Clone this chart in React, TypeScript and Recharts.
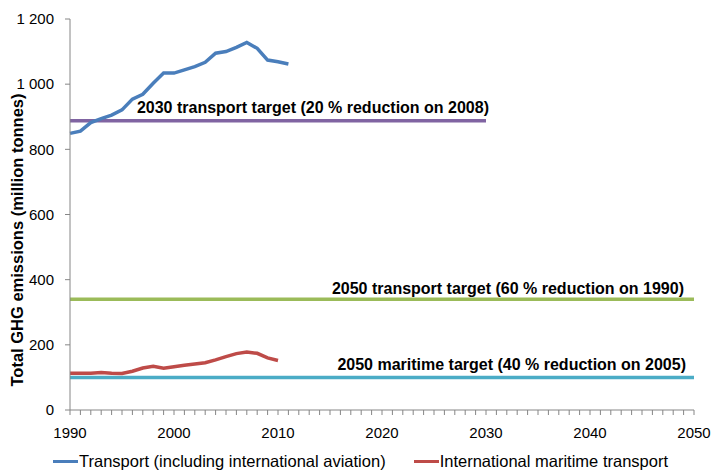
import { LineChart, Line, XAxis, YAxis, ReferenceLine, Legend } from 'recharts'

const YEARS = [
  1990, 1991, 1992, 1993, 1994, 1995, 1996, 1997, 1998, 1999, 2000,
  2001, 2002, 2003, 2004, 2005, 2006, 2007, 2008, 2009, 2010, 2011,
]
const TRANSPORT = [
  849, 856, 882, 894, 905, 921, 954, 969, 1003, 1034, 1034,
  1044, 1054, 1067, 1095, 1100, 1113, 1128, 1110, 1074, 1069, 1062,
]
const MARITIME = [
  113, 113, 113, 115, 113, 112, 119, 129, 134, 128, 133,
  137, 141, 145, 154, 164, 173, 178, 174, 160, 152,
]
const SERIES_NAMES = ['Transport (including international aviation)', 'International maritime transport']

const TARGET_NAMES = [
  '2030 transport target (20 % reduction on 2008)',
  '2050 transport target (60 % reduction on 1990)',
  '2050 maritime target (40 % reduction on 2005)',
]
const TARGET_VALUES = [888, 340, 100]
const TARGET_START = [1990, 1990, 1990]
const TARGET_END = [2030, 2050, 2050]

const X_LABELS = [1990, 2000, 2010, 2020, 2030, 2040, 2050]
const Y_TICKS = [0, 200, 400, 600, 800, 1000, 1200]

// styling for the target lines + labels (end offset, lift above line)
const TARGET_STYLE = [
  { color: '#8064a2', dx: -3, dy: 8 },
  { color: '#9bbb59', dx: 10, dy: 5 },
  { color: '#4bacc6', dx: 8, dy: 7 },
]

const FONT = '"Liberation Sans", Arial, sans-serif'
const AXIS = '#868686'

const rows = YEARS.map((year, i) => ({
  year,
  transport: TRANSPORT[i],
  maritime: MARITIME[i] ?? null,
}))

const minorTicks = Array.from({ length: 61 }, (_, i) => 1990 + i)

const fmt = (v: number) => String(v).replace(/\B(?=(\d{3})+(?!\d))/g, ' ')

function XTick({ x, y, payload }: any) {
  if (!X_LABELS.includes(payload.value)) return <g />
  return (
    <text x={x} y={y} dy="0.71em" textAnchor="middle" fill="#000" fontSize={15} fontFamily={FONT}>
      {payload.value}
    </text>
  )
}

function LegendBox({ payload }: any) {
  const items = [...(payload || [])].sort(
    (a: any, b: any) => SERIES_NAMES.indexOf(a.value) - SERIES_NAMES.indexOf(b.value),
  )
  return (
    <div style={{ display: 'flex', width: 713, height: 22, alignItems: 'center', paddingLeft: 53, whiteSpace: 'nowrap', fontFamily: FONT, fontSize: 16.5, color: '#000' }}>
      {items.map((p: any, i: number) => (
        <div key={i} style={{ display: 'flex', flexShrink: 0, alignItems: 'center', marginRight: 28 }}>
          <span style={{ display: 'inline-block', width: 25, height: 3, background: p.color, marginRight: 1 }} />
          <span style={{ whiteSpace: 'nowrap' }}>{p.value}</span>
        </div>
      ))}
    </div>
  )
}

export default function App() {
  return (
    <div style={{ position: 'absolute', left: 0, top: 0, background: '#fff' }}>
      <LineChart width={713} height={472} data={rows} margin={{ top: 19, right: 19, left: 0, bottom: 0 }}>
        <XAxis
          dataKey="year"
          type="number"
          domain={[1990, 2050]}
          ticks={minorTicks}
          interval={0}
          stroke={AXIS}
          tickSize={5}
          tickMargin={12}
          height={40}
          tick={<XTick />}
        />
        <YAxis
          type="number"
          domain={[0, 1200]}
          ticks={Y_TICKS}
          interval={0}
          width={70}
          stroke={AXIS}
          tickSize={5}
          tickMargin={11}
          tickFormatter={fmt}
          tick={{ fill: '#000', fontSize: 15, fontFamily: FONT }}
          label={{
            content: ({ viewBox }: any) => (
              <text
                x={viewBox.x + 17}
                y={240}
                transform={`rotate(-90 ${viewBox.x + 17} 240)`}
                textAnchor="middle"
                dominantBaseline="central"
                fontSize={16.5}
                fontWeight="bold"
                fontFamily={FONT}
                fill="#000"
              >
                Total GHG emissions (million tonnes)
              </text>
            ),
          }}
        />
        {TARGET_NAMES.map((name, i) => (
          <ReferenceLine
            key={name}
            segment={[
              { x: TARGET_START[i], y: TARGET_VALUES[i] },
              { x: TARGET_END[i], y: TARGET_VALUES[i] },
            ]}
            stroke={TARGET_STYLE[i].color}
            strokeWidth={3.5}
            ifOverflow="visible"
            label={{
              content: ({ viewBox }: any) => (
                <text
                  x={viewBox.x + viewBox.width - TARGET_STYLE[i].dx}
                  y={viewBox.y - TARGET_STYLE[i].dy}
                  textAnchor="end"
                  fontSize={16}
                  fontWeight="bold"
                  fontFamily={FONT}
                  fill="#000"
                >
                  {name}
                </text>
              ),
            }}
          />
        ))}
        <Line
          dataKey="transport"
          name={SERIES_NAMES[0]}
          stroke="#4a7ebb"
          strokeWidth={3.5}
          dot={false}
          isAnimationActive={false}
        />
        <Line
          dataKey="maritime"
          name={SERIES_NAMES[1]}
          stroke="#be4b48"
          strokeWidth={3.5}
          dot={false}
          isAnimationActive={false}
        />
        <Legend verticalAlign="bottom" content={<LegendBox />} wrapperStyle={{ left: 0, width: 713 }} />
      </LineChart>
    </div>
  )
}
